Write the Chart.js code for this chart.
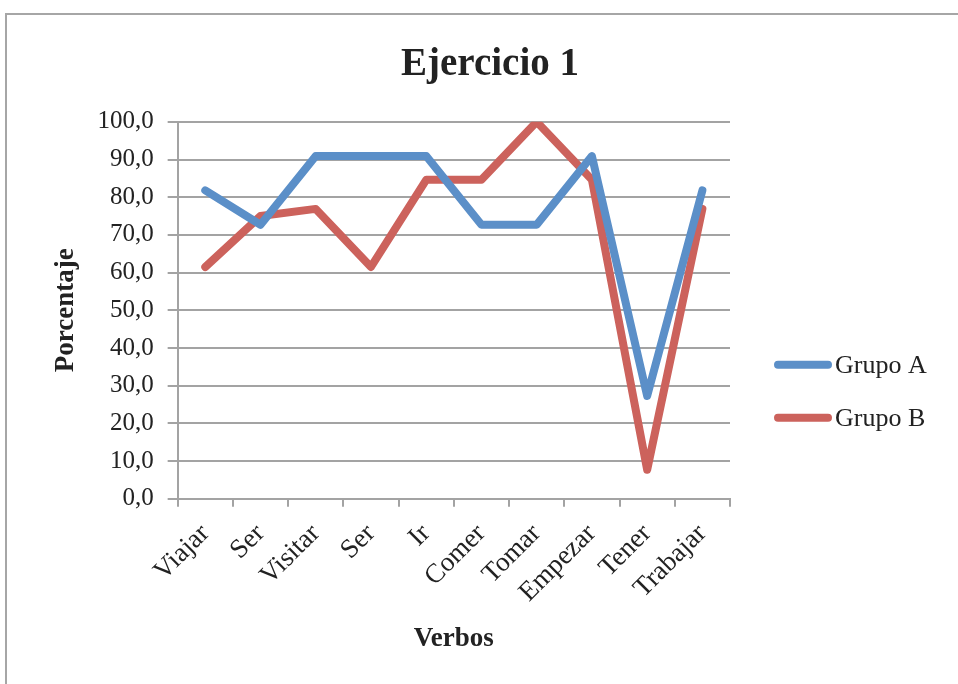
<!DOCTYPE html>
<html lang="es">
<head>
<meta charset="UTF-8">
<title>Ejercicio 1</title>
<script src="https://cdn.jsdelivr.net/npm/chart.js"></script>
<style>
  html, body { margin: 0; padding: 0; background: #fff; overflow: hidden; }
  #marco { position: absolute; left: 5px; top: 13px; width: 1000px; height: 700px; border: 2px solid #a6a6a6; }
  #wrap { position: absolute; left: 0; top: 0; width: 980px; height: 684px; }
</style>
</head>
<body>
<div id="marco"></div>
<div id="wrap"><canvas id="grafico" width="980" height="684"></canvas></div>
<script>
// datos
const verbos = ['Viajar', 'Ser', 'Visitar', 'Ser', 'Ir', 'Comer', 'Tomar', 'Empezar', 'Tener', 'Trabajar'];
const grupoA = [81.8, 72.7, 90.9, 90.9, 90.9, 72.7, 72.7, 90.9, 27.3, 81.8];
const grupoB = [61.5, 75.0, 76.9, 61.5, 84.6, 84.6, 100.0, 84.6, 7.7, 76.9];
const nombres = ['Grupo A', 'Grupo B'];
const colores = ['#5b8fc8', '#cc625c'];

const serif = "'Liberation Serif', serif";
const gris = '#a3a3a3';
const texto = '#222';

// leyenda dibujada a mano (a la derecha del area del grafico)
const leyenda = {
    id: 'leyenda',
    afterDraw(chart) {
        const ctx = chart.ctx;
        const area = chart.chartArea;
        ctx.save();
        chart.data.datasets.forEach((ds, i) => {
            const y = area.top + 243 + i * 53;
            ctx.strokeStyle = ds.borderColor;
            ctx.lineWidth = 8;
            ctx.lineCap = 'round';
            ctx.beginPath();
            ctx.moveTo(area.right + 48, y);
            ctx.lineTo(area.right + 98, y);
            ctx.stroke();
            ctx.fillStyle = texto;
            ctx.font = '26px ' + serif;
            ctx.textBaseline = 'middle';
            ctx.fillText(ds.label, area.right + 105, y + 1);
        });
        ctx.restore();
    }
};

const ctx = document.getElementById('grafico').getContext('2d');
new Chart(ctx, {
    type: 'line',
    data: {
        labels: verbos,
        datasets: [
            { label: nombres[0], data: grupoA, borderColor: colores[0], backgroundColor: colores[0], yAxisID: 'y' },
            { label: nombres[1], data: grupoB, borderColor: colores[1], backgroundColor: colores[1], yAxisID: 'y' }
        ]
    },
    options: {
        responsive: false,
        animation: false,
        layout: { padding: { top: 13, left: 38, right: 38, bottom: 29 } },
        elements: {
            line: { borderWidth: 8, tension: 0, borderCapStyle: 'round', borderJoinStyle: 'round' },
            point: { radius: 0 }
        },
        plugins: {
            legend: { display: false },
            tooltip: { enabled: false },
            title: {
                display: true,
                text: 'Ejercicio 1',
                color: texto,
                font: { family: serif, size: 39, weight: 'bold' },
                padding: { top: 29, bottom: 33 }
            }
        },
        scales: {
            x: {
                offset: true,
                grid: { offset: true, drawOnChartArea: false, drawTicks: true, tickLength: 8, color: gris, lineWidth: 2 },
                border: { color: gris, width: 2 },
                ticks: { color: texto, font: { family: serif, size: 27 }, minRotation: 45, maxRotation: 45, padding: 11 },
                title: { display: true, text: 'Verbos', color: texto, font: { family: serif, size: 27, weight: 'bold' }, padding: { top: 3, bottom: 0 } }
            },
            y: {
                min: 0,
                max: 100,
                ticks: {
                    stepSize: 10,
                    color: texto,
                    font: { family: serif, size: 25 },
                    padding: 14,
                    callback: v => v.toFixed(1).replace('.', ',')
                },
                grid: { color: gris, lineWidth: 2, tickLength: 10 },
                border: { color: gris, width: 2 },
                title: { display: true, text: 'Porcentaje', color: texto, font: { family: serif, size: 27, weight: 'bold' }, padding: { top: 12, bottom: 1 } }
            },
            // eje vacio: solo reserva el hueco de la leyenda
            hueco: {
                type: 'linear',
                position: 'right',
                display: true,
                grid: { display: false },
                border: { display: false },
                ticks: { display: false },
                afterFit(scale) { scale.width = 212; }
            }
        }
    },
    plugins: [leyenda]
});
</script>
</body>
</html>
